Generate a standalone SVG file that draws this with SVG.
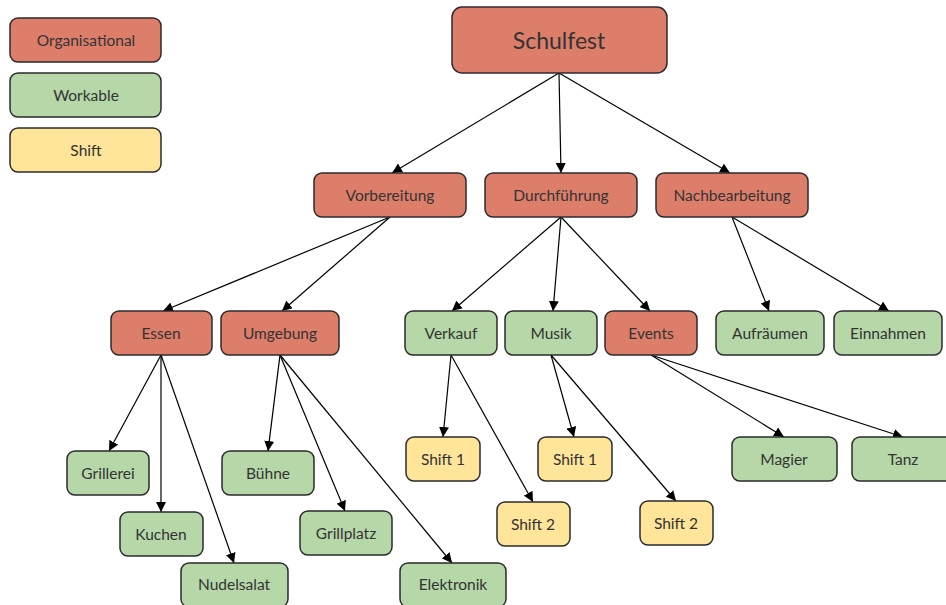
<svg xmlns="http://www.w3.org/2000/svg" width="946" height="605" viewBox="0 0 946 605">
  <style>
    .box { stroke: #2b2b2b; stroke-width: 1.5; }
    .org { fill: #dd7e6b; }
    .work { fill: #b6d7a8; }
    .shift { fill: #ffe599; }
    text { font-family: "Lato", "Open Sans", "Liberation Sans", sans-serif; font-size: 15.5px; fill: #333333; text-anchor: middle; dominant-baseline: central; }
    .title { font-size: 23px; }
    .edge { stroke: #000000; stroke-width: 1.2; fill: none; marker-end: url(#arrow); }
  </style>
  <defs>
    <marker id="arrow" viewBox="0 0 10 10" refX="10" refY="5" markerWidth="10" markerHeight="10" markerUnits="userSpaceOnUse" orient="auto">
      <path d="M0,0 L10,5 L0,10 z" fill="#000000"/>
    </marker>
  </defs>
  <rect width="946" height="605" fill="#ffffff"/>

  <!-- legend -->
  <g id="legend-organisational"><rect class="box org" x="10" y="18" width="151" height="44" rx="8"/><text x="86" y="40">Organisational</text></g>
  <g id="legend-workable"><rect class="box work" x="10" y="73" width="151" height="44" rx="8"/><text x="86" y="95">Workable</text></g>
  <g id="legend-shift"><rect class="box shift" x="10" y="128" width="151" height="44" rx="8"/><text x="86" y="150">Shift</text></g>

  <!-- connectors -->
  <g id="connectors">
    <line class="edge" x1="559" y1="73" x2="392" y2="173"/>
    <line class="edge" x1="559" y1="73" x2="561" y2="173"/>
    <line class="edge" x1="559" y1="73" x2="730" y2="173"/>

    <line class="edge" x1="390" y1="217" x2="163" y2="311"/>
    <line class="edge" x1="390" y1="217" x2="282" y2="311"/>
    <line class="edge" x1="561" y1="217" x2="452" y2="311"/>
    <line class="edge" x1="561" y1="217" x2="553" y2="311"/>
    <line class="edge" x1="561" y1="217" x2="650" y2="311"/>
    <line class="edge" x1="732" y1="217" x2="769" y2="311"/>
    <line class="edge" x1="732" y1="217" x2="889" y2="311"/>

    <line class="edge" x1="161" y1="355" x2="109" y2="451"/>
    <line class="edge" x1="161" y1="355" x2="161" y2="512"/>
    <line class="edge" x1="161" y1="355" x2="234" y2="563"/>
    <line class="edge" x1="280" y1="355" x2="268" y2="451"/>
    <line class="edge" x1="280" y1="355" x2="345" y2="511"/>
    <line class="edge" x1="280" y1="355" x2="452" y2="563"/>

    <line class="edge" x1="451" y1="355" x2="443" y2="437"/>
    <line class="edge" x1="451" y1="355" x2="533" y2="502"/>
    <line class="edge" x1="551" y1="355" x2="574" y2="437"/>
    <line class="edge" x1="551" y1="355" x2="676" y2="501"/>
    <line class="edge" x1="651" y1="355" x2="784" y2="437"/>
    <line class="edge" x1="651" y1="355" x2="903" y2="437"/>
  </g>

  <!-- root -->
  <g id="schulfest"><rect class="box org" x="452" y="7" width="215" height="66" rx="10"/><text class="title" x="559" y="40">Schulfest</text></g>

  <!-- phases -->
  <g id="vorbereitung"><rect class="box org" x="314" y="173" width="152" height="44" rx="8"/><text x="390" y="195">Vorbereitung</text></g>
  <g id="durchfuehrung"><rect class="box org" x="485" y="173" width="152" height="44" rx="8"/><text x="561" y="195">Durchführung</text></g>
  <g id="nachbearbeitung"><rect class="box org" x="656" y="173" width="152" height="44" rx="8"/><text x="732" y="195">Nachbearbeitung</text></g>

  <!-- areas -->
  <g id="essen"><rect class="box org" x="111" y="311" width="101" height="44" rx="8"/><text x="161" y="333">Essen</text></g>
  <g id="umgebung"><rect class="box org" x="221" y="311" width="118" height="44" rx="8"/><text x="280" y="333">Umgebung</text></g>
  <g id="verkauf"><rect class="box work" x="405" y="311" width="92" height="44" rx="8"/><text x="451" y="333">Verkauf</text></g>
  <g id="musik"><rect class="box work" x="505" y="311" width="92" height="44" rx="8"/><text x="551" y="333">Musik</text></g>
  <g id="events"><rect class="box org" x="605" y="311" width="92" height="44" rx="8"/><text x="651" y="333">Events</text></g>
  <g id="aufraeumen"><rect class="box work" x="716" y="311" width="108" height="44" rx="8"/><text x="770" y="333">Aufräumen</text></g>
  <g id="einnahmen"><rect class="box work" x="834" y="311" width="108" height="44" rx="8"/><text x="888" y="333">Einnahmen</text></g>

  <!-- tasks -->
  <g id="grillerei"><rect class="box work" x="67" y="451" width="82" height="44" rx="8"/><text x="108" y="473">Grillerei</text></g>
  <g id="kuchen"><rect class="box work" x="120" y="512" width="83" height="44" rx="8"/><text x="161" y="534">Kuchen</text></g>
  <g id="nudelsalat"><rect class="box work" x="181" y="563" width="107" height="44" rx="8"/><text x="234" y="584">Nudelsalat</text></g>
  <g id="buehne"><rect class="box work" x="222" y="451" width="92" height="44" rx="8"/><text x="268" y="473">Bühne</text></g>
  <g id="grillplatz"><rect class="box work" x="300" y="511" width="92" height="44" rx="8"/><text x="346" y="533">Grillplatz</text></g>
  <g id="elektronik"><rect class="box work" x="400" y="563" width="106" height="44" rx="8"/><text x="453" y="584">Elektronik</text></g>

  <g id="verkauf-shift1"><rect class="box shift" x="406" y="437" width="74" height="44" rx="8"/><text x="443" y="459">Shift 1</text></g>
  <g id="verkauf-shift2"><rect class="box shift" x="497" y="502" width="73" height="44" rx="8"/><text x="533" y="524">Shift 2</text></g>
  <g id="musik-shift1"><rect class="box shift" x="538" y="437" width="74" height="44" rx="8"/><text x="575" y="459">Shift 1</text></g>
  <g id="musik-shift2"><rect class="box shift" x="640" y="501" width="73" height="44" rx="8"/><text x="676" y="523">Shift 2</text></g>
  <g id="magier"><rect class="box work" x="732" y="437" width="105" height="44" rx="8"/><text x="784" y="459">Magier</text></g>
  <g id="tanz"><rect class="box work" x="852" y="437" width="102" height="44" rx="8"/><text x="903" y="459">Tanz</text></g>
</svg>
